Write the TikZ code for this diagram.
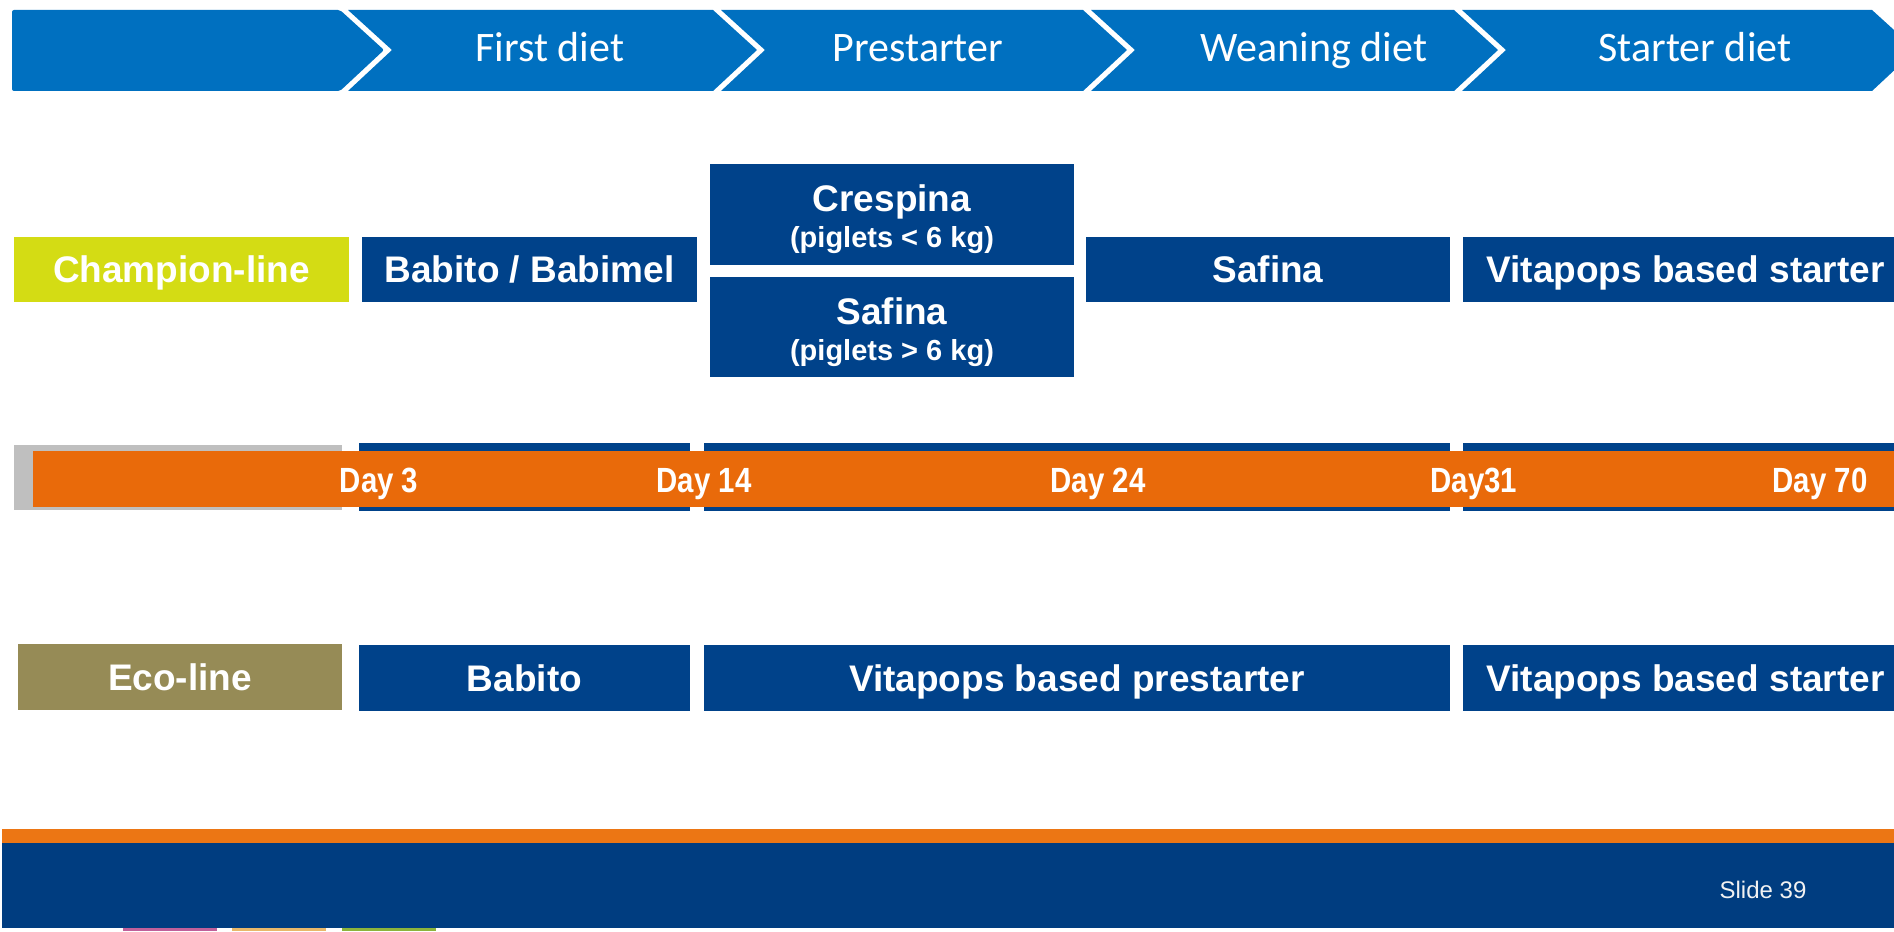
\documentclass[tikz,border=0pt]{standalone}
\usepackage{fontspec}
\setmainfont{Liberation Sans}
\newfontfamily\calibri{Carlito}
\newfontfamily\narrowfont[FakeStretch=0.84]{Liberation Sans}
\newcommand{\pigfont}{\fontsize{14.5}{16}\selectfont\bfseries}
\definecolor{chevblue}{HTML}{0070C0}
\definecolor{feedblue}{HTML}{00428A}
\definecolor{dayorange}{HTML}{E96A0A}
\definecolor{footorange}{HTML}{EC7614}
\definecolor{footblue}{HTML}{003D80}
\definecolor{champion}{HTML}{D4DC14}
\definecolor{eco}{HTML}{968B56}
\definecolor{tabpink}{HTML}{C0609A}
\definecolor{tabtan}{HTML}{E8B86A}
\definecolor{tabgreen}{HTML}{8CB43C}
\tikzset{
  feedbox/.style={fill=feedblue,text=white,inner sep=0pt,align=center,
    minimum height=32.5pt,font=\fontsize{18.5}{20}\selectfont\bfseries},
  feed/.style={feedbox,text height=16pt,text depth=2.8pt},
  linebox/.style={feed,fill=#1},
  phase/.style={text=white,anchor=base,font=\calibri\fontsize{21}{24}\selectfont},
  daylabel/.style={text=white,font=\narrowfont\fontsize{17.5}{20}\selectfont\bfseries}
}
\begin{document}
\begin{tikzpicture}[x=0.5pt,y=-0.5pt]
  \useasboundingbox (0,0) rectangle (1894,931);
  \clip (0,0) rectangle (1894,931);
  % phase chevrons
  \fill[chevblue,rounded corners=1pt] (12,10)--(340,10)--(384,50)--(340,91)--(12,91)--cycle;
  \foreach \l/\r in {348/713,721/1083,1091/1454,1462/1872}
    \fill[chevblue] (\l,10)--(\r,10)--(\r+44,50)--(\r,91)--(\l,91)--(\l+44,50)--cycle;
  \node[phase] (first) at (550,62) {First diet};
  \node[phase] (prestarter) at (918,62) {Prestarter};
  \node[phase] (weaning) at (1314,62) {Weaning diet};
  \node[phase] (starter) at (1695,62) {Starter diet};
  % champion line
  \node[linebox=champion,minimum width=167.5pt] (champ) at (181.5,269.5) {Champion-line};
  \node[feed,minimum width=167.5pt] (babimel) at (529.5,269.5) {Babito / Babimel};
  \node[feedbox,minimum width=182pt,minimum height=50.5pt] (crespina) at (892,214.5)
    {\rule{0pt}{18.5pt}Crespina\\[-2pt]{\pigfont(piglets < 6 kg)}};
  \node[feedbox,minimum width=182pt,minimum height=50pt] (safinalow) at (892,327)
    {\rule{0pt}{18.5pt}Safina\\[-2pt]{\pigfont(piglets > 6 kg)}};
  \node[feed,minimum width=182pt] (safina) at (1268,269.5) {Safina};
  \node[feed,minimum width=222.5pt] (champstart) at (1685.5,269.5) {Vitapops based starter};
  % timeline
  \fill[gray!50] (14,445) rectangle (342,510);
  \foreach \l/\r in {359/690,704/1450,1463/1894}
    \fill[feedblue] (\l,443) rectangle (\r,511);
  \fill[dayorange] (33,451) rectangle (1894,507);
  \foreach \x/\t in {379/Day 3,704/Day 14,1098/Day 24,1474/Day31,1820/Day 70}
    \node[daylabel] at (\x,484) {\t};
  % eco line
  \node[linebox=eco,minimum width=162pt,minimum height=33pt] (ecoline) at (180,677) {Eco-line};
  \node[feed,minimum width=165.5pt,minimum height=33pt] (babito) at (524.5,678) {Babito};
  \node[feed,minimum width=373pt,minimum height=33pt] (ecopre) at (1077,678)
    {Vitapops based prestarter};
  \node[feed,minimum width=222.5pt,minimum height=33pt] (ecostart) at (1685.5,678)
    {Vitapops based starter};
  % footer
  \fill[footorange] (2,829) rectangle (1894,843);
  \fill[footblue] (2,843) rectangle (1894,928);
  \fill[tabpink] (123,928) rectangle (217,931);
  \fill[tabtan] (232,928) rectangle (326,931);
  \fill[tabgreen] (342,928) rectangle (436,931);
  \node[text=white!90!gray,font=\fontsize{12}{14}\selectfont] (slide) at (1763,890) {Slide 39};
\end{tikzpicture}
\end{document}
